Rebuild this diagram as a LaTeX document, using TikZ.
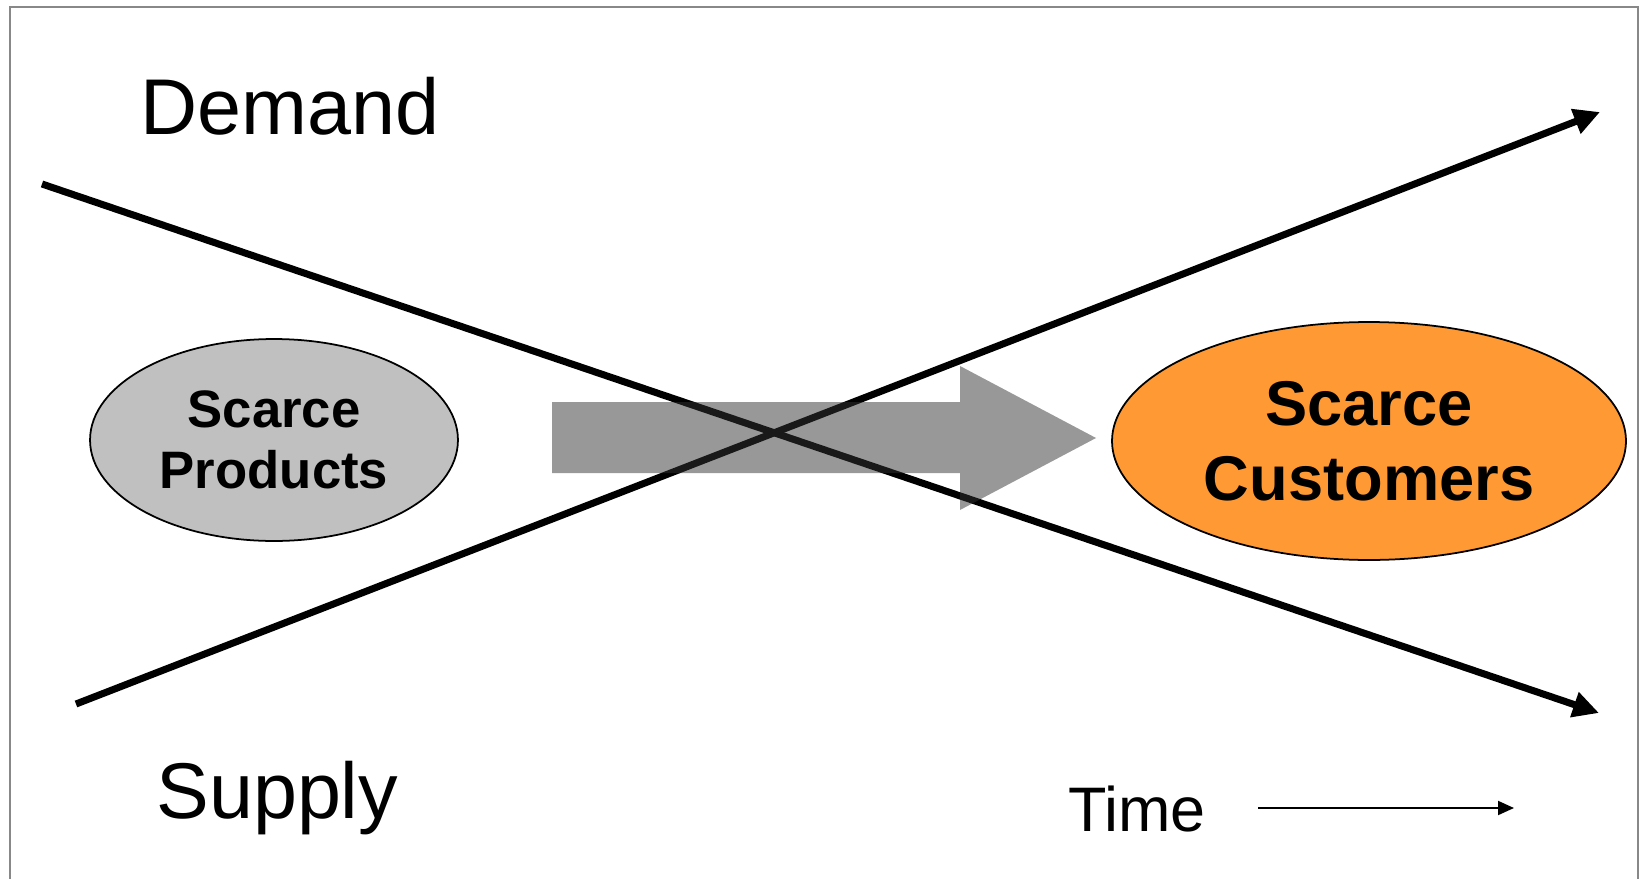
\documentclass[tikz,border=0pt]{standalone}
\usepackage{fontspec}
\setmainfont{Liberation Sans}
\usetikzlibrary{arrows.meta,shapes.geometric}

\definecolor{framegray}{HTML}{888888}
\definecolor{prodgray}{HTML}{C0C0C0}
\definecolor{custorange}{HTML}{FF9933}

\tikzset{
  frameline/.style={draw=framegray, line width=1.4pt},
  trendline/.style={line width=4pt, -{Triangle[length=0.52cm, width=0.5cm]}},
  timeline/.style={line width=1.1pt, -{Triangle[length=0.32cm, width=0.28cm]}},
  bigarrow/.style={fill=black!80, fill opacity=0.5},
  bubble/.style={ellipse, draw=black, line width=1pt, inner sep=0pt, align=center},
  biglabel/.style={font=\fontsize{45}{54}\selectfont, inner sep=0pt, anchor=base west},
  timelabel/.style={font=\fontsize{35.8}{43}\selectfont, inner sep=0pt, anchor=base west}
}

\begin{document}
\begin{tikzpicture}[x=0.02cm, y=-0.02cm]
\useasboundingbox (0,0) rectangle (1640,879);
\clip (0,0) rectangle (1640,879);
\fill[white] (0,0) rectangle (1640,879);

% outer frame (runs past the bottom edge)
\draw[frameline] (10,7) rectangle (1638,900);

% labels
\node[biglabel] (demand) at (140,134) {Demand};
\node[biglabel] (supply) at (156,818) {Supply};
\node[timelabel] (time) at (1068,831) {Time};

% ellipses
\node[bubble, fill=prodgray, minimum width=7.36cm, minimum height=4.04cm,
      font=\bfseries\fontsize{30}{34.7}\selectfont] (products) at (274,440) {Scarce\\Products};
\node[bubble, fill=custorange, minimum width=10.28cm, minimum height=4.76cm,
      font=\bfseries\fontsize{36}{42.7}\selectfont] (customers) at (1369,441) {Scarce\\Customers};

% demand and supply trend lines
\coordinate (dstart) at (42,184);
\coordinate (dend) at (1599,713);
\coordinate (sstart) at (76,704);
\coordinate (send) at (1600,112);
\draw[trendline] (dstart) -- (dend);
\draw[trendline] (sstart) -- (send);

% broad grey arrow laid over the crossing
\fill[bigarrow] (552,402) -- (960,402) -- (960,366) -- (1096,438)
  -- (960,510) -- (960,473) -- (552,473) -- cycle;

% time axis arrow
\coordinate (tstart) at (1258,808);
\coordinate (tend) at (1514,808);
\draw[timeline] (tstart) -- (tend);
\end{tikzpicture}
\end{document}
